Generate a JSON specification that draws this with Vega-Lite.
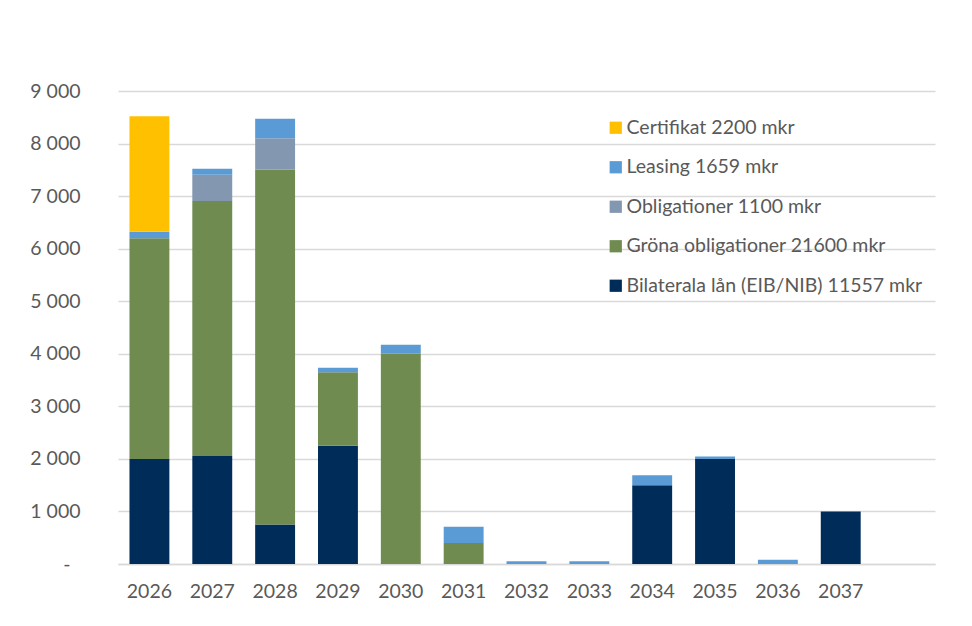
{
  "$schema": "https://vega.github.io/schema/vega-lite/v6.json",
  "autosize": "none",
  "width": 817,
  "height": 473,
  "padding": {"left": 118, "top": 91, "right": 37, "bottom": 62},
  "background": "white",
  "config": {
    "view": {"stroke": null},
    "font": "Lato",
    "axis": {"labelFont": "Lato", "labelColor": "#595959", "labelFontSize": 19.5}
  },
  "data": {
    "values": [
      {"year": "2026", "serie": "Bilaterala lån (EIB/NIB) 11557 mkr", "value": 2000},
      {"year": "2026", "serie": "Gröna obligationer 21600 mkr", "value": 4200},
      {"year": "2026", "serie": "Leasing 1659 mkr", "value": 120},
      {"year": "2026", "serie": "Certifikat 2200 mkr", "value": 2200},
      {"year": "2027", "serie": "Bilaterala lån (EIB/NIB) 11557 mkr", "value": 2057},
      {"year": "2027", "serie": "Gröna obligationer 21600 mkr", "value": 4850},
      {"year": "2027", "serie": "Obligationer 1100 mkr", "value": 500},
      {"year": "2027", "serie": "Leasing 1659 mkr", "value": 115},
      {"year": "2028", "serie": "Bilaterala lån (EIB/NIB) 11557 mkr", "value": 750},
      {"year": "2028", "serie": "Gröna obligationer 21600 mkr", "value": 6750},
      {"year": "2028", "serie": "Obligationer 1100 mkr", "value": 600},
      {"year": "2028", "serie": "Leasing 1659 mkr", "value": 370},
      {"year": "2029", "serie": "Bilaterala lån (EIB/NIB) 11557 mkr", "value": 2250},
      {"year": "2029", "serie": "Gröna obligationer 21600 mkr", "value": 1400},
      {"year": "2029", "serie": "Leasing 1659 mkr", "value": 85},
      {"year": "2030", "serie": "Gröna obligationer 21600 mkr", "value": 4000},
      {"year": "2030", "serie": "Leasing 1659 mkr", "value": 170},
      {"year": "2031", "serie": "Gröna obligationer 21600 mkr", "value": 400},
      {"year": "2031", "serie": "Leasing 1659 mkr", "value": 310},
      {"year": "2032", "serie": "Leasing 1659 mkr", "value": 50},
      {"year": "2033", "serie": "Leasing 1659 mkr", "value": 50},
      {"year": "2034", "serie": "Bilaterala lån (EIB/NIB) 11557 mkr", "value": 1500},
      {"year": "2034", "serie": "Leasing 1659 mkr", "value": 190},
      {"year": "2035", "serie": "Bilaterala lån (EIB/NIB) 11557 mkr", "value": 2000},
      {"year": "2035", "serie": "Leasing 1659 mkr", "value": 45},
      {"year": "2036", "serie": "Leasing 1659 mkr", "value": 80},
      {"year": "2037", "serie": "Bilaterala lån (EIB/NIB) 11557 mkr", "value": 1000}
    ]
  },
  "transform": [
    {"calculate": "indexof(['Bilaterala lån (EIB/NIB) 11557 mkr','Gröna obligationer 21600 mkr','Obligationer 1100 mkr','Leasing 1659 mkr','Certifikat 2200 mkr'], datum.serie)", "as": "ord"}
  ],
  "mark": {"type": "bar"},
  "encoding": {
    "x": {
      "field": "year", "type": "nominal",
      "scale": {"domain": ["2026","2027","2028","2029","2030","2031","2032","2033","2034","2035","2036","2037"," "], "paddingInner": 0.365, "paddingOuter": 0.1825},
      "axis": {"title": null, "labelAngle": 0, "ticks": false, "domain": true, "domainColor": "#D9D9D9", "domainWidth": 1.5, "labelPadding": 18}
    },
    "y": {
      "field": "value", "type": "quantitative", "aggregate": "sum",
      "stack": "zero",
      "scale": {"domain": [0, 9000], "nice": false},
      "axis": {"title": null, "values": [0,1000,2000,3000,4000,5000,6000,7000,8000,9000], "labelOverlap": false, "domain": false, "ticks": false,
        "labelPadding": {"condition": {"test": "datum.value == 0", "value": 48}, "value": 38},
        "gridColor": "#D9D9D9", "gridWidth": 1.5,
        "labelExpr": "datum.value == 0 ? '-' : replace(format(datum.value, ','), ',', ' ')"}
    },
    "color": {
      "field": "serie", "type": "nominal",
      "scale": {
        "domain": ["Certifikat 2200 mkr", "Leasing 1659 mkr", "Obligationer 1100 mkr", "Gröna obligationer 21600 mkr", "Bilaterala lån (EIB/NIB) 11557 mkr"],
        "range": ["#FFC000", "#5B9BD5", "#8497B0", "#6F8B4F", "#002C5A"]
      },
      "legend": {
        "title": null, "orient": "none", "legendX": 488, "legendY": 27,
        "symbolType": "square", "symbolSize": 150, "symbolStrokeWidth": 0,
        "labelFont": "Lato", "labelFontSize": 19.5, "labelColor": "#595959",
        "rowPadding": 18.5, "labelOffset": 1, "padding": 0, "labelLimit": 400
      }
    },
    "order": {"field": "ord", "type": "quantitative", "aggregate": "min"}
  }
}
